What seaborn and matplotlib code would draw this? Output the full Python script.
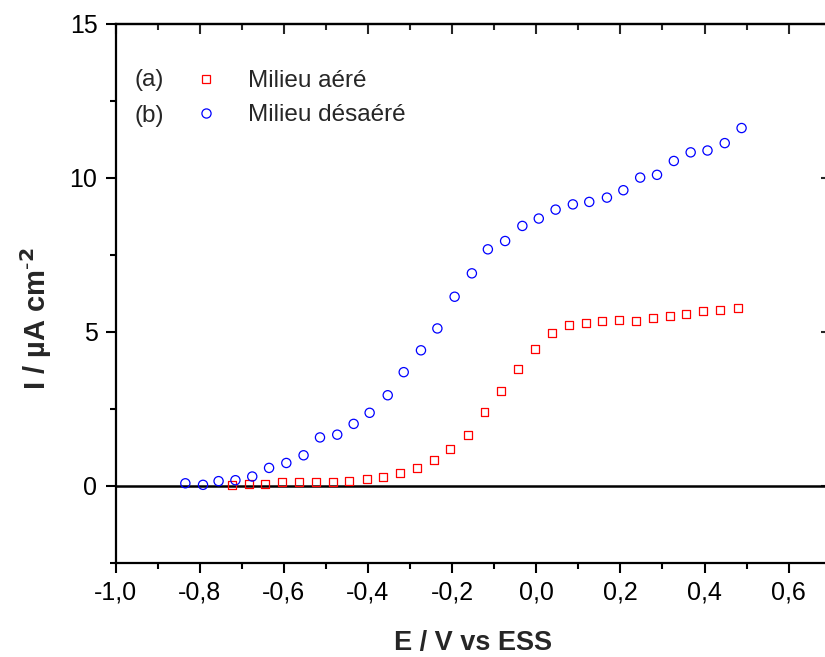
import matplotlib
matplotlib.use("Agg")
import matplotlib.pyplot as plt
import seaborn as sns
from matplotlib.lines import Line2D
from matplotlib.ticker import MultipleLocator, FuncFormatter

# (a) Milieu aere - potential (V vs ESS) and current (uA cm-2)
e_aere = [-0.724, -0.683, -0.645, -0.605, -0.563, -0.524, -0.483, -0.444,
          -0.403, -0.365, -0.323, -0.283, -0.244, -0.206, -0.163, -0.123,
          -0.084, -0.043, -0.004, 0.037, 0.077, 0.118, 0.156, 0.196,
          0.236, 0.277, 0.317, 0.357, 0.397, 0.437, 0.479]
i_aere = [0.02, 0.07, 0.07, 0.11, 0.12, 0.11, 0.13, 0.16,
          0.22, 0.29, 0.42, 0.58, 0.84, 1.20, 1.65, 2.40,
          3.07, 3.80, 4.45, 4.96, 5.23, 5.29, 5.34, 5.39,
          5.36, 5.45, 5.50, 5.58, 5.67, 5.71, 5.79]

# (b) Milieu desaere
e_desaere = [-0.834, -0.792, -0.755, -0.715, -0.675, -0.635, -0.594, -0.553,
             -0.514, -0.473, -0.434, -0.396, -0.353, -0.315, -0.274, -0.235,
             -0.194, -0.153, -0.115, -0.074, -0.033, 0.006, 0.046, 0.087,
             0.126, 0.168, 0.207, 0.247, 0.287, 0.327, 0.367, 0.407,
             0.448, 0.488]
i_desaere = [0.08, 0.03, 0.15, 0.18, 0.30, 0.58, 0.74, 0.99,
             1.57, 1.66, 2.01, 2.37, 2.94, 3.69, 4.40, 5.11,
             6.14, 6.90, 7.68, 7.95, 8.44, 8.68, 8.97, 9.14,
             9.22, 9.36, 9.60, 10.01, 10.10, 10.55, 10.83, 10.89,
             11.13, 11.62]

sns.set_theme(style="ticks")
plt.rcParams["font.family"] = ["Liberation Sans", "DejaVu Sans"]

fig = plt.figure(figsize=(8.25, 6.57), dpi=100)
ax = fig.add_axes([0.14, 0.1435, 1.007 - 0.14, 0.9635 - 0.1435])

ax.axhline(0, color="black", lw=1.8, zorder=1)

sns.scatterplot(x=e_aere, y=i_aere, ax=ax, marker="s", s=33,
                facecolor="none", edgecolor="red", linewidth=0.9, zorder=3)
sns.scatterplot(x=e_desaere, y=i_desaere, ax=ax, marker="o", s=44,
                facecolor="none", edgecolor="blue", linewidth=0.9, zorder=3)

ax.set_xlim(-1.0, 0.7)
ax.set_ylim(-2.5, 15)
ax.xaxis.set_major_locator(MultipleLocator(0.2))
ax.xaxis.set_minor_locator(MultipleLocator(0.1))
ax.yaxis.set_major_locator(MultipleLocator(5))
ax.yaxis.set_minor_locator(MultipleLocator(2.5))
ax.xaxis.set_major_formatter(FuncFormatter(lambda v, p: f"{v:.1f}".replace(".", ",").replace("-0,0", "0,0")))
ax.yaxis.set_major_formatter(FuncFormatter(lambda v, p: f"{v:.0f}"))

for s in ax.spines.values():
    s.set_visible(True)
    s.set_linewidth(1.6)
    s.set_color("black")

ax.tick_params(which="both", direction="out", colors="black", width=1.5,
               top=False, right=False)
ax.tick_params(which="major", length=7, labelsize=18, pad=6)
ax.tick_params(which="minor", length=4)
# mirrored inward ticks on top and right
ax_top = ax.secondary_xaxis("top")
ax_top.xaxis.set_major_locator(MultipleLocator(0.2))
ax_top.xaxis.set_minor_locator(MultipleLocator(0.1))
ax_top.tick_params(which="both", direction="in", width=1.5, labeltop=False)
ax_top.tick_params(which="major", length=7)
ax_top.tick_params(which="minor", length=4)
ax_top.spines["top"].set_linewidth(1.6)
ax_right = ax.secondary_yaxis("right")
ax_right.yaxis.set_major_locator(MultipleLocator(5))
ax_right.yaxis.set_minor_locator(MultipleLocator(2.5))
ax_right.tick_params(which="both", direction="in", width=1.5, labelright=False)
ax_right.tick_params(which="major", length=7)
ax_right.tick_params(which="minor", length=4)

ax.set_xlabel("E / V vs ESS", fontsize=19.5, fontweight="bold", labelpad=18)
ax.set_ylabel("I / µA cm$^{\\mathbf{\\text{-}2}}$", fontsize=21, fontweight="bold")
ax.yaxis.set_label_coords(-0.086, 0.452)

handles = [
    Line2D([], [], marker="s", ls="none", mec="red", mfc="none", ms=5.8, mew=0.9),
    Line2D([], [], marker="o", ls="none", mec="blue", mfc="none", ms=6.6, mew=0.9),
]
ax.legend(handles, ["Milieu aéré", "Milieu désaéré"], loc="upper left",
          bbox_to_anchor=(0.093, 0.937), frameon=False, fontsize=17.5,
          handlelength=1.0, handletextpad=1.23, labelspacing=0.5, borderpad=0)
ax.text(0.026, 0.896, "(a)", transform=ax.transAxes, fontsize=17.5, va="center")
ax.text(0.026, 0.829, "(b)", transform=ax.transAxes, fontsize=17.5, va="center")

fig.savefig("out.png", dpi=100)
